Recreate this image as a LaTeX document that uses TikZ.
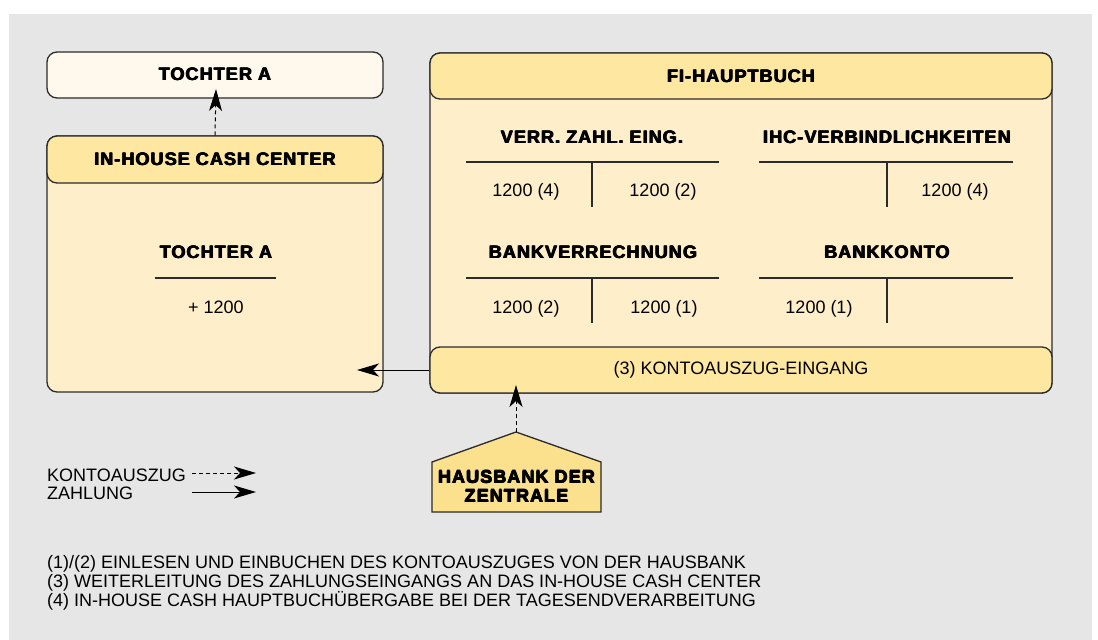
\documentclass[tikz,border=0pt]{standalone}
\usepackage{fontspec}
\setmainfont{Liberation Sans}
\newfontfamily\headfont[LetterSpace=6]{Liberation Sans}
\usetikzlibrary{arrows.meta}

% heavier lettering: bold face overprinted with small offsets
\newcommand\heavytext[1]{%
  \rlap{\kern0.5pt\raisebox{0.35pt}{#1}}%
  \rlap{\kern1pt#1}%
  \rlap{\kern0.5pt\raisebox{-0.35pt}{#1}}%
  #1\kern1pt}

\definecolor{bg}{HTML}{E6E6E6}
\definecolor{pale}{HTML}{FEF9EC}
\definecolor{headfill}{HTML}{FDE7A1}
\definecolor{bodyfill}{HTML}{FEEFCA}
\definecolor{housefill}{HTML}{FBE18E}
\definecolor{edge}{HTML}{2B2B2B}

\tikzset{
  panel/.style={draw=edge, line width=1.3pt, rounded corners=10pt, inner sep=0pt},
  headtxt/.style={font=\headfont\bfseries\fontsize{18}{19}\selectfont, text height=13pt, text depth=0pt, inner sep=0pt},
  plain/.style={font=\fontsize{18}{19}\selectfont, text height=13pt, text depth=0pt, inner sep=0pt},
  tline/.style={draw=edge, line width=1.4pt},
  tip/.style={-{Stealth[length=22pt,width=13pt,inset=6pt]}},
  flowdash/.style={tip, line width=1pt, dash pattern=on 4pt off 3pt},
  flowsolid/.style={tip, line width=1pt},
}

\begin{document}
\begin{tikzpicture}[x=1pt,y=-1pt]
\useasboundingbox (0,0) rectangle (1098,640);
\fill[white] (0,0) rectangle (1098,640);
\fill[bg] (9,14) rectangle (1092,640);

% subsidiary (top left)
\node[panel, fill=pale, minimum width=336pt, minimum height=46pt] (tochter) at (215,75) {};
\node[headtxt] (tochterlbl) at (215,74) {\heavytext{TOCHTER A}};

% in-house cash center
\node[panel, fill=bodyfill, minimum width=336pt, minimum height=256pt] (ihc) at (215,264) {};
\node[panel, fill=headfill, minimum width=336pt, minimum height=47pt] (ihchead) at (215,159.5) {};
\node[headtxt] (ihclbl) at (215,159) {\heavytext{IN-HOUSE CASH CENTER}};
\node[headtxt] (ihcacct) at (216,252) {\heavytext{TOCHTER A}};
\draw[tline] (155,278) -- (276,278);
\node[plain] (ihcval) at (216,307) {+ 1200};

% general ledger
\node[panel, fill=bodyfill, minimum width=622pt, minimum height=340pt] (fi) at (741,223) {};
\node[panel, fill=headfill, minimum width=622pt, minimum height=46pt] (fihead) at (741,76) {};
\node[headtxt] (filbl) at (741,76) {\heavytext{FI-HAUPTBUCH}};

% T-accounts, upper row
\node[headtxt] (verr) at (592,137) {\heavytext{VERR. ZAHL. EING.}};
\draw[tline] (466,162) -- (719,162);
\draw[tline] (592,162) -- (592,207);
\node[plain] (verrS) at (526,190) {1200 (4)};
\node[plain] (verrH) at (663,190) {1200 (2)};

\node[headtxt] (ihcv) at (887,137) {\heavytext{IHC-VERBINDLICHKEITEN}};
\draw[tline] (759,162) -- (1013,162);
\draw[tline] (887,162) -- (887,207);
\node[plain] (ihcvH) at (955,190) {1200 (4)};

% T-accounts, lower row
\node[headtxt] (bvr) at (593,252) {\heavytext{BANKVERRECHNUNG}};
\draw[tline] (466,278) -- (719,278);
\draw[tline] (592,278) -- (592,323);
\node[plain] (bvrS) at (526,307) {1200 (2)};
\node[plain] (bvrH) at (664,307) {1200 (1)};

\node[headtxt] (bk) at (887,252) {\heavytext{BANKKONTO}};
\draw[tline] (759,278) -- (1013,278);
\draw[tline] (887,278) -- (887,323);
\node[plain] (bkS) at (819,307) {1200 (1)};

% statement receipt band
\node[panel, fill=headfill, minimum width=622pt, minimum height=46pt] (band) at (741,370) {};
\node[plain] (bandlbl) at (741,368) {(3) KONTOAUSZUG-EINGANG};

% house bank
\draw[draw=edge, line width=1.3pt, fill=housefill, line join=miter]
  (432,512) -- (432,462) -- (516,432) -- (601,462) -- (601,512) -- cycle;
\coordinate (apex) at (516,432);
\node[font=\headfont\bfseries\fontsize{18}{19}\selectfont, align=center, inner sep=0pt] (hausbank) at (516.5,486.5) {\heavytext{HAUSBANK DER}\\\heavytext{ZENTRALE}};

% connectors
\coordinate (tochterin) at (216,89);
\coordinate (bandin) at (516,385);
\coordinate (ihcin) at (357,370);
\draw[flowdash] (ihchead.north) -- (tochterin);
\draw[flowdash] (apex) -- (bandin);
\draw[flowsolid] (band.west) -- (ihcin);

% legend
\node[plain, anchor=west] (lgk) at (47,475) {KONTOAUSZUG};
\node[plain, anchor=west] (lgz) at (47,493) {ZAHLUNG};
\coordinate (lk1) at (192,473);
\coordinate (lk2) at (256,473);
\coordinate (lz1) at (192,492);
\coordinate (lz2) at (256,492);
\draw[flowdash] (lk1) -- (lk2);
\draw[flowsolid] (lz1) -- (lz2);

% notes
\node[font=\fontsize{18}{19}\selectfont, inner sep=0pt, anchor=base west] (n1) at (47,568.5) {(1)/(2) EINLESEN UND EINBUCHEN DES KONTOAUSZUGES VON DER HAUSBANK};
\node[font=\fontsize{18}{19}\selectfont, inner sep=0pt, anchor=base west] (n2) at (47,587.5) {(3) WEITERLEITUNG DES ZAHLUNGSEINGANGS AN DAS IN-HOUSE CASH CENTER};
\node[font=\fontsize{18}{19}\selectfont, inner sep=0pt, anchor=base west] (n3) at (47,606.5) {(4) IN-HOUSE CASH HAUPTBUCHÜBERGABE BEI DER TAGESENDVERARBEITUNG};
\end{tikzpicture}
\end{document}
